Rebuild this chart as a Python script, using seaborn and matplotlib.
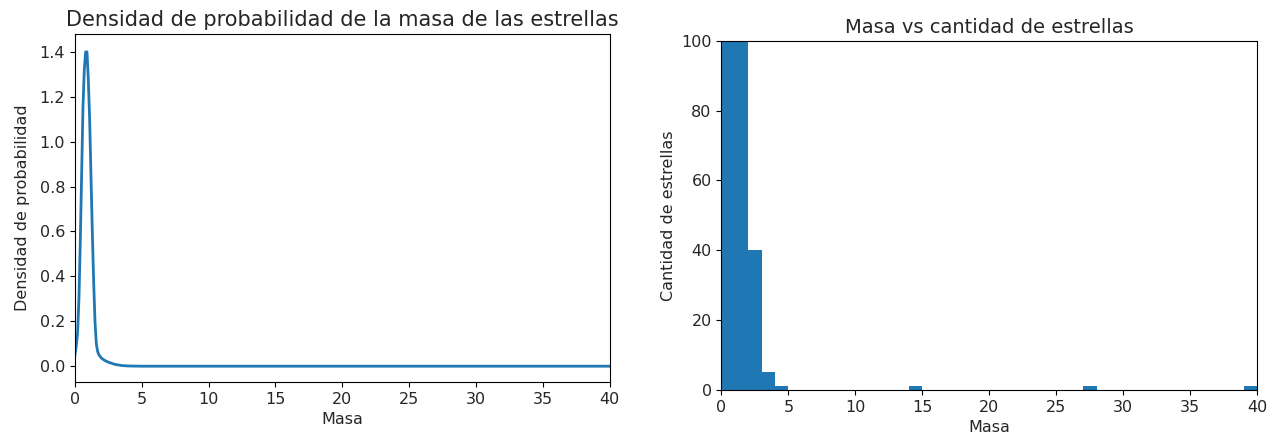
import matplotlib
matplotlib.use("Agg")
import matplotlib.pyplot as plt
import seaborn as sns
import numpy as np
import pandas as pd

# Density curve
masa_kde = [0.0, 0.1, 0.2, 0.3, 0.4, 0.5, 0.6, 0.7, 0.8, 0.9, 1.0, 1.1, 1.2, 1.3,
            1.4, 1.5, 1.6, 1.7, 1.8, 2.0, 2.25, 2.5, 3.0, 3.5, 4.0, 5.0, 40.0]
densidad = [0.05, 0.09, 0.15, 0.30, 0.55, 0.85, 1.15, 1.32, 1.40, 1.40, 1.28, 1.10, 0.85, 0.60,
            0.38, 0.20, 0.10, 0.065, 0.05, 0.035, 0.025, 0.018, 0.008, 0.003, 0.001, 0.0, 0.0]

# Histogram (bin edges and counts)
bin_edges = list(range(0, 41))
counts = [380, 270, 40, 5, 1, 0, 0, 0, 0, 0, 0, 0, 0, 0, 1, 0, 0, 0, 0, 0,
          0, 0, 0, 0, 0, 0, 0, 1, 0, 0, 0, 0, 0, 0, 0, 0, 0, 0, 0, 1]

blue = "#1f77b4"
txt = "#262626"

fig = plt.figure(figsize=(12.7, 4.4), dpi=100)
ax1 = fig.add_axes([0.059, 0.132, 0.421, 0.791])
ax2 = fig.add_axes([0.568, 0.114, 0.422, 0.793])

df_kde = pd.DataFrame({"Masa": masa_kde, "Densidad": densidad})
sns.lineplot(data=df_kde, x="Masa", y="Densidad", ax=ax1, color=blue, linewidth=2)
ax1.set_xlim(0, 40)
ax1.set_ylim(-0.07, 1.48)
ax1.set_yticks(np.arange(0, 1.41, 0.2))
ax1.set_xticks(range(0, 41, 5))
ax1.set_title("Densidad de probabilidad de la masa de las estrellas", fontsize=15, color=txt)
ax1.set_xlabel("Masa", fontsize=11.5, color=txt)
ax1.set_ylabel("Densidad de probabilidad", fontsize=11.5, color=txt, labelpad=7)

centers = [(bin_edges[i] + bin_edges[i + 1]) / 2 for i in range(len(counts))]
df_h = pd.DataFrame({"Masa": centers, "n": counts})
sns.histplot(data=df_h, x="Masa", weights="n", bins=bin_edges, ax=ax2,
             color=blue, alpha=1, linewidth=0, edgecolor="none")
ax2.set_xlim(0, 40)
ax2.set_ylim(0, 100)
ax2.set_xticks(range(0, 41, 5))
ax2.set_yticks(range(0, 101, 20))
ax2.set_title("Masa vs cantidad de estrellas", fontsize=14, color=txt)
ax2.set_xlabel("Masa", fontsize=11.5, color=txt)
ax2.set_ylabel("Cantidad de estrellas", fontsize=11.5, color=txt)

for ax in (ax1, ax2):
    ax.tick_params(labelsize=11.5, labelcolor=txt)

fig.savefig("out.png", dpi=100)
